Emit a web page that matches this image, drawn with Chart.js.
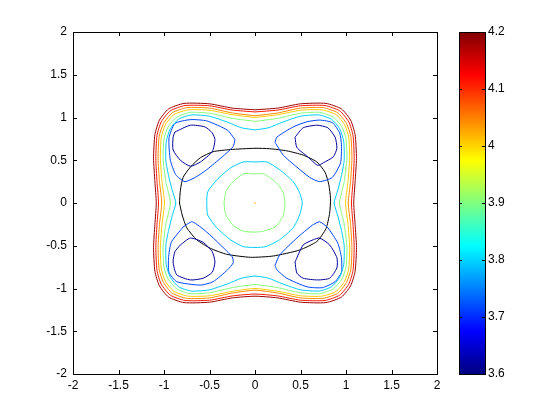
<!DOCTYPE html>
<html>
<head>
<meta charset="utf-8">
<script src="https://cdn.jsdelivr.net/npm/chart.js@4.4.1/dist/chart.umd.min.js"></script>
<style>
  html, body { margin: 0; padding: 0; background: #fff; }
  #wrap { position: relative; width: 560px; height: 420px; }
  #wrap canvas { position: absolute; top: 0; }
</style>
</head>
<body>
<div id="wrap">
  <canvas id="contourChart" width="560" height="420" style="left:0"></canvas>
  <canvas id="colorbarChart" width="120" height="420" style="left:440px"></canvas>
</div>
<script>
// Axis ticks
const axisTicks = [-2, -1.5, -1, -0.5, 0, 0.5, 1, 1.5, 2];
const colorbarTicks = [3.6, 3.7, 3.8, 3.9, 4, 4.1, 4.2];
const colorbarRange = [3.6, 4.2];

// Contour lines (x, y)
const ringDarkRed = [[0,1.09],[0.25,1.11],[0.5,1.16],[0.78,1.165],[0.95,1.1],[1.05,0.97],[1.1,0.8],[1.115,0.52],[1.1,0.25],[1.085,0],
  [1.1,-0.25],[1.115,-0.52],[1.1,-0.8],[1.05,-0.97],[0.95,-1.1],[0.78,-1.165],[0.5,-1.16],[0.25,-1.11],[0,-1.09],
  [-0.25,-1.11],[-0.5,-1.16],[-0.78,-1.165],[-0.95,-1.1],[-1.05,-0.97],[-1.1,-0.8],[-1.115,-0.52],[-1.1,-0.25],[-1.085,0],
  [-1.1,0.25],[-1.115,0.52],[-1.1,0.8],[-1.05,0.97],[-0.95,1.1],[-0.78,1.165],[-0.5,1.16],[-0.25,1.11],[0,1.09]];

const ringRed = [[0,1.065],[0.25,1.087],[0.5,1.137],[0.77,1.14],[0.93,1.078],[1.03,0.95],[1.077,0.79],[1.09,0.52],[1.077,0.25],[1.06,0],
  [1.077,-0.25],[1.09,-0.52],[1.077,-0.79],[1.03,-0.95],[0.93,-1.078],[0.77,-1.14],[0.5,-1.137],[0.25,-1.087],[0,-1.065],
  [-0.25,-1.087],[-0.5,-1.137],[-0.77,-1.14],[-0.93,-1.078],[-1.03,-0.95],[-1.077,-0.79],[-1.09,-0.52],[-1.077,-0.25],[-1.06,0],
  [-1.077,0.25],[-1.09,0.52],[-1.077,0.79],[-1.03,0.95],[-0.93,1.078],[-0.77,1.14],[-0.5,1.137],[-0.25,1.087],[0,1.065]];

const ringOrange = [[0,1.02],[0.25,1.053],[0.5,1.11],[0.75,1.115],[0.91,1.055],[1.005,0.93],[1.053,0.78],[1.065,0.52],[1.05,0.25],[1.025,0],
  [1.05,-0.25],[1.065,-0.52],[1.053,-0.78],[1.005,-0.93],[0.91,-1.055],[0.75,-1.115],[0.5,-1.11],[0.25,-1.053],[0,-1.02],
  [-0.25,-1.053],[-0.5,-1.11],[-0.75,-1.115],[-0.91,-1.055],[-1.005,-0.93],[-1.053,-0.78],[-1.065,-0.52],[-1.05,-0.25],[-1.025,0],
  [-1.05,0.25],[-1.065,0.52],[-1.053,0.78],[-1.005,0.93],[-0.91,1.055],[-0.75,1.115],[-0.5,1.11],[-0.25,1.053],[0,1.02]];

const ringYellow = [[0,1.0],[0.25,1.033],[0.5,1.085],[0.73,1.09],[0.89,1.035],[0.985,0.915],[1.03,0.77],[1.04,0.52],[1.022,0.25],[0.995,0],
  [1.022,-0.25],[1.04,-0.52],[1.03,-0.77],[0.985,-0.915],[0.89,-1.035],[0.73,-1.09],[0.5,-1.085],[0.25,-1.033],[0,-1.0],
  [-0.25,-1.033],[-0.5,-1.085],[-0.73,-1.09],[-0.89,-1.035],[-0.985,-0.915],[-1.03,-0.77],[-1.04,-0.52],[-1.022,-0.25],[-0.995,0],
  [-1.022,0.25],[-1.04,0.52],[-1.03,0.77],[-0.985,0.915],[-0.89,1.035],[-0.73,1.09],[-0.5,1.085],[-0.25,1.033],[0,1.0]];

const ringGreen = [[0,0.955],[0.25,0.99],[0.5,1.05],[0.71,1.06],[0.86,1.005],[0.955,0.89],[1.0,0.75],[1.01,0.52],[0.98,0.25],[0.93,0],
  [0.98,-0.25],[1.01,-0.52],[1.0,-0.75],[0.955,-0.89],[0.86,-1.005],[0.71,-1.06],[0.5,-1.05],[0.25,-0.99],[0,-0.955],
  [-0.25,-0.99],[-0.5,-1.05],[-0.71,-1.06],[-0.86,-1.005],[-0.955,-0.89],[-1.0,-0.75],[-1.01,-0.52],[-0.98,-0.25],[-0.93,0],
  [-0.98,0.25],[-1.01,0.52],[-1.0,0.75],[-0.955,0.89],[-0.86,1.005],[-0.71,1.06],[-0.5,1.05],[-0.25,0.99],[0,0.955]];

const ringCyan = [[0,0.855],[0.15,0.88],[0.3,0.945],[0.5,1.015],[0.7,1.03],[0.84,0.98],[0.93,0.87],[0.975,0.72],[0.98,0.5],[0.95,0.32],[0.91,0.15],[0.87,0],
  [0.91,-0.15],[0.95,-0.32],[0.98,-0.5],[0.975,-0.72],[0.93,-0.87],[0.84,-0.98],[0.7,-1.03],[0.5,-1.015],[0.3,-0.945],[0.15,-0.88],[0,-0.855],
  [-0.15,-0.88],[-0.3,-0.945],[-0.5,-1.015],[-0.7,-1.03],[-0.84,-0.98],[-0.93,-0.87],[-0.975,-0.72],[-0.98,-0.5],[-0.95,-0.32],[-0.91,-0.15],[-0.87,0],
  [-0.91,0.15],[-0.95,0.32],[-0.98,0.5],[-0.975,0.72],[-0.93,0.87],[-0.84,0.98],[-0.7,1.03],[-0.5,1.015],[-0.3,0.945],[-0.15,0.88],[0,0.855]];

const centerCyan = [[0,0.48],[0.13,0.48],[0.27,0.39],[0.42,0.25],[0.49,0.12],[0.52,0],[0.49,-0.14],[0.42,-0.29],[0.27,-0.43],[0.12,-0.51],[0,-0.52],
  [-0.13,-0.51],[-0.27,-0.43],[-0.42,-0.29],[-0.52,-0.14],[-0.53,0],[-0.52,0.13],[-0.42,0.27],[-0.27,0.41],[-0.13,0.48],[0,0.48]];

const centerGreen = [[0,0.34],[0.1,0.34],[0.24,0.23],[0.31,0.12],[0.33,0],[0.31,-0.15],[0.22,-0.28],[0.09,-0.33],[0,-0.34],
  [-0.13,-0.33],[-0.24,-0.26],[-0.32,-0.14],[-0.34,0],[-0.32,0.13],[-0.24,0.25],[-0.13,0.34],[0,0.34]];

const centerPeak = [[0, 0]];

const blueLoopUL = [[-0.22,0.74],[-0.3,0.85],[-0.53,0.96],[-0.71,0.975],[-0.88,0.93],[-0.945,0.76],[-0.93,0.5],[-0.87,0.33],[-0.77,0.25],[-0.64,0.31],[-0.53,0.39],[-0.36,0.54],[-0.24,0.66],[-0.22,0.74]];
const blueLoopUR = [[0.22,0.71],[0.24,0.77],[0.42,0.89],[0.57,0.95],[0.71,0.97],[0.85,0.94],[0.93,0.82],[0.95,0.68],[0.94,0.47],[0.85,0.3],[0.71,0.25],[0.6,0.3],[0.46,0.42],[0.31,0.56],[0.22,0.71]];
const blueLoopLL = [[-0.79,-0.28],[-0.69,-0.22],[-0.53,-0.34],[-0.38,-0.49],[-0.25,-0.63],[-0.24,-0.7],[-0.3,-0.78],[-0.46,-0.92],[-0.6,-0.96],[-0.86,-0.92],[-0.945,-0.81],[-0.95,-0.64],[-0.92,-0.46],[-0.79,-0.28]];
const blueLoopLR = [[0.22,-0.73],[0.27,-0.61],[0.46,-0.41],[0.63,-0.26],[0.71,-0.22],[0.8,-0.29],[0.91,-0.47],[0.95,-0.64],[0.95,-0.81],[0.88,-0.92],[0.74,-0.99],[0.57,-0.98],[0.35,-0.88],[0.24,-0.78],[0.22,-0.73]];

const navyLoopUL = [[-0.88,0.83],[-0.71,0.91],[-0.55,0.89],[-0.47,0.82],[-0.44,0.74],[-0.47,0.6],[-0.6,0.48],[-0.71,0.43],[-0.82,0.5],[-0.9,0.62],[-0.9,0.77],[-0.88,0.83]];
const navyLoopUR = [[0.44,0.77],[0.53,0.88],[0.68,0.91],[0.8,0.88],[0.88,0.77],[0.9,0.64],[0.86,0.54],[0.75,0.47],[0.69,0.44],[0.58,0.54],[0.46,0.65],[0.44,0.77]];
const navyLoopLL = [[-0.82,-0.49],[-0.71,-0.41],[-0.57,-0.46],[-0.47,-0.57],[-0.44,-0.69],[-0.47,-0.81],[-0.57,-0.88],[-0.71,-0.9],[-0.86,-0.84],[-0.9,-0.69],[-0.88,-0.57],[-0.82,-0.49]];
const navyLoopLR = [[0.44,-0.69],[0.53,-0.49],[0.64,-0.43],[0.71,-0.41],[0.82,-0.49],[0.9,-0.64],[0.9,-0.76],[0.82,-0.88],[0.69,-0.9],[0.53,-0.88],[0.46,-0.82],[0.44,-0.69]];

// Black closed curve
const blackCurve = [[-0.83,0],[-0.82,0.15],[-0.79,0.3],[-0.71,0.42],[-0.6,0.53],[-0.46,0.6],[-0.27,0.625],[0,0.64],[0.16,0.635],[0.35,0.61],[0.53,0.56],[0.68,0.48],
  [0.77,0.36],[0.81,0.22],[0.83,0.05],[0.82,-0.12],[0.78,-0.3],[0.68,-0.45],[0.49,-0.55],[0.2,-0.62],[-0.05,-0.635],[-0.31,-0.6],[-0.49,-0.53],[-0.64,-0.43],
  [-0.75,-0.29],[-0.8,-0.14],[-0.83,0]];

// Jet colour stops for the colour bar
const jetStops = [[0, '#000080'], [0.125, '#0000ff'], [0.375, '#00ffff'], [0.625, '#ffff00'], [0.875, '#ff0000'], [1, '#800000']];

Chart.defaults.font.family = "'Liberation Sans', Arial, sans-serif";
Chart.defaults.font.size = 12;
Chart.defaults.color = '#000';

function contourLine(points, color) {
    return {
        data: points,
        showLine: true,
        borderColor: color,
        borderWidth: 1,
        pointRadius: 0,
        tension: 0.2,
        fill: false
    };
}

function trimNumber(v) {
    return String(Number(v.toFixed(2)));
}

// Box with inward tick marks on every side, like MATLAB axes
const boxTicks = {
    id: 'boxTicks',
    afterDraw(chart, args, opts) {
        const { ctx, chartArea: a } = chart;
        const len = opts.length || 4;
        ctx.save();
        ctx.strokeStyle = '#000';
        ctx.lineWidth = 1;
        ctx.strokeRect(a.left + 0.5, a.top + 0.5, a.right - a.left, a.bottom - a.top);
        ctx.beginPath();
        const xs = chart.scales.x;
        if (xs && xs.options.display !== false) {
            xs.ticks.forEach(t => {
                const px = Math.round(xs.getPixelForValue(t.value)) + 0.5;
                ctx.moveTo(px, a.bottom);
                ctx.lineTo(px, a.bottom - len);
                ctx.moveTo(px, a.top);
                ctx.lineTo(px, a.top + len);
            });
        }
        const ys = chart.scales.y;
        ys.ticks.forEach(t => {
            const py = Math.round(ys.getPixelForValue(t.value)) + 0.5;
            ctx.moveTo(a.left, py);
            ctx.lineTo(a.left + len, py);
            ctx.moveTo(a.right, py);
            ctx.lineTo(a.right - len, py);
        });
        ctx.stroke();
        ctx.restore();
    }
};

const contourDatasets = [
    contourLine(ringDarkRed, '#a00000'),
    contourLine(ringRed, '#ff1800'),
    contourLine(ringOrange, '#ff8800'),
    contourLine(ringYellow, '#ffcc00'),
    contourLine(ringGreen, '#88ff78'),
    contourLine(ringCyan, '#00ccff'),
    contourLine(centerCyan, '#00ccff'),
    contourLine(centerGreen, '#88ff78'),
    contourLine(blueLoopUL, '#0044ff'),
    contourLine(blueLoopUR, '#0044ff'),
    contourLine(blueLoopLL, '#0044ff'),
    contourLine(blueLoopLR, '#0044ff'),
    contourLine(navyLoopUL, '#00009c'),
    contourLine(navyLoopUR, '#00009c'),
    contourLine(navyLoopLL, '#00009c'),
    contourLine(navyLoopLR, '#00009c'),
    contourLine(blackCurve, '#000000'),
    {
        data: centerPeak,
        showLine: false,
        pointRadius: 0.8,
        pointBorderWidth: 0,
        pointBackgroundColor: '#ffb000'
    }
];

new Chart(document.getElementById('contourChart'), {
    type: 'scatter',
    data: { datasets: contourDatasets },
    options: {
        responsive: false,
        animation: false,
        devicePixelRatio: 1,
        layout: { padding: { top: 32, right: 123, left: 0, bottom: 0 } },
        plugins: {
            legend: { display: false },
            tooltip: { enabled: false },
            boxTicks: { length: 4 }
        },
        scales: {
            x: {
                type: 'linear',
                min: axisTicks[0],
                max: axisTicks[axisTicks.length - 1],
                afterBuildTicks: scale => { scale.ticks = axisTicks.map(v => ({ value: v })); },
                afterFit: scale => { scale.height = 46; },
                grid: { display: false, drawTicks: false },
                border: { display: false },
                ticks: { padding: 4, maxRotation: 0, autoSkip: false, callback: v => trimNumber(v) }
            },
            y: {
                type: 'linear',
                min: axisTicks[0],
                max: axisTicks[axisTicks.length - 1],
                afterBuildTicks: scale => { scale.ticks = axisTicks.map(v => ({ value: v })); },
                afterFit: scale => { scale.width = 73; },
                grid: { display: false, drawTicks: false },
                border: { display: false },
                ticks: { padding: 6, autoSkip: false, callback: v => trimNumber(v) }
            }
        }
    },
    plugins: [boxTicks]
});

new Chart(document.getElementById('colorbarChart'), {
    type: 'bar',
    data: {
        labels: ['colorbar'],
        datasets: [{
            data: [colorbarRange],
            barPercentage: 1,
            categoryPercentage: 1,
            borderWidth: 0,
            backgroundColor(context) {
                const { ctx, chartArea } = context.chart;
                if (!chartArea) return null;
                const g = ctx.createLinearGradient(0, chartArea.bottom, 0, chartArea.top);
                jetStops.forEach(([p, c]) => g.addColorStop(p, c));
                return g;
            }
        }]
    },
    options: {
        responsive: false,
        animation: false,
        devicePixelRatio: 1,
        layout: { padding: { top: 32, left: 19, right: 0, bottom: 46 } },
        plugins: {
            legend: { display: false },
            tooltip: { enabled: false },
            boxTicks: { length: 3 }
        },
        scales: {
            x: { display: false },
            y: {
                position: 'right',
                min: colorbarRange[0],
                max: colorbarRange[1],
                afterBuildTicks: scale => { scale.ticks = colorbarTicks.map(v => ({ value: v })); },
                afterFit: scale => { scale.width = 75; },
                grid: { display: false, drawTicks: false },
                border: { display: false },
                ticks: { padding: 3, autoSkip: false, callback: v => trimNumber(v) }
            }
        }
    },
    plugins: [boxTicks]
});
</script>
</body>
</html>
